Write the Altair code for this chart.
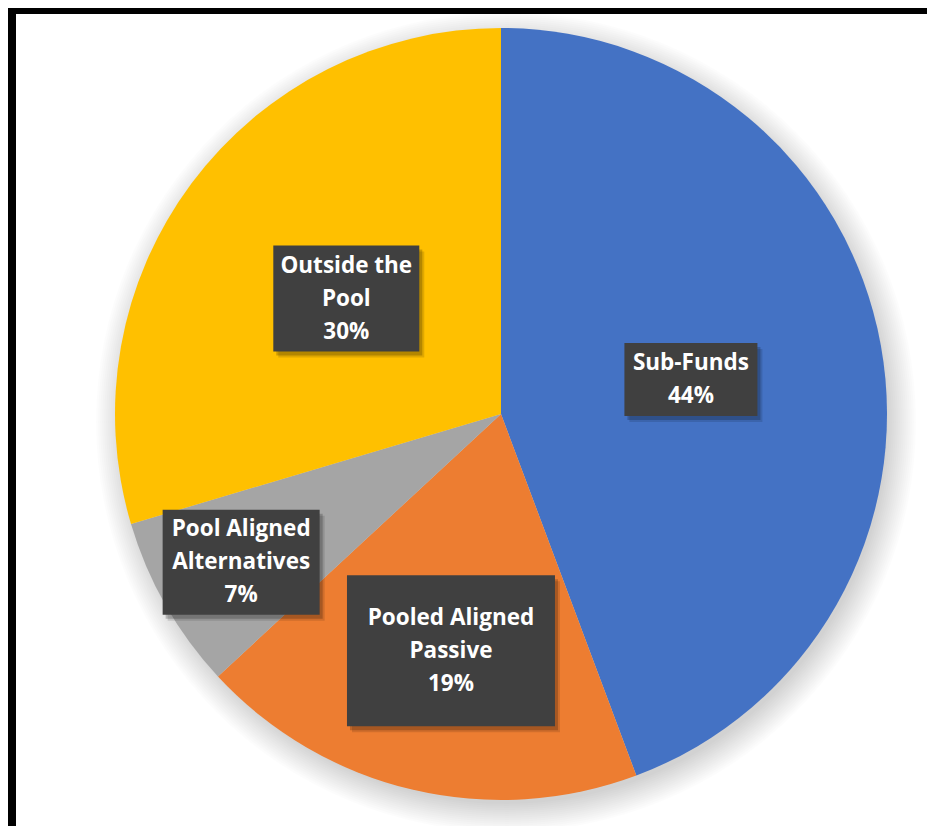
import altair as alt
import pandas as pd

# ---- data ----
categories = ["Sub-Funds", "Pooled Aligned Passive", "Pool Aligned Alternatives", "Outside the Pool"]
shares = [44.3, 18.8, 7.3, 29.6]
pct_labels = ["44%", "19%", "7%", "30%"]
name_lines = [["Sub-Funds"], ["Pooled Aligned", "Passive"], ["Pool Aligned", "Alternatives"], ["Outside the", "Pool"]]

# ---- styles / layout ----
colors = ["#4472C4", "#ED7D31", "#A5A5A5", "#FFC000"]
label_radius = [0.5, 0.63, 0.775, 0.5]
label_dx = [0, 6, 0, 0]
box_w = [133, 208, 157, 146]
box_h = [73, 151, 105, 106]
W, H = 919, 818
CX, CY, R = 493, 406, 386
FONT = "Open Sans"
LINE_H = 33

df = pd.DataFrame({
    "category": categories,
    "share": shares,
    "order": list(range(len(categories))),
    "lines": [n + [p] for n, p in zip(name_lines, pct_labels)],
    "nlines": [len(n) + 1 for n in name_lines],
    "lr": label_radius,
    "dx": label_dx,
    "bw": box_w,
    "bh": box_h,
})

color_scale = alt.Scale(domain=categories, range=colors)

# soft shadow rings behind the pie (drawn as big circles)
shadow_df = pd.DataFrame({"s": [(2 * (R + k)) ** 2 for k in range(-4, 26, 2)]})
shadow = alt.Chart(shadow_df).mark_circle(color="black", opacity=0.011).encode(
    size=alt.Size("s:Q", scale=None, legend=None),
    x=alt.value(CX + 5),
    y=alt.value(CY + 8),
)

pie = alt.Chart(df).mark_arc(outerRadius=R).encode(
    theta=alt.Theta("share:Q", stack=True),
    order=alt.Order("order:Q"),
    color=alt.Color("category:N", scale=color_scale, legend=None),
    x=alt.value(CX),
    y=alt.value(CY),
)

lab = alt.Chart(df).transform_window(
    cum="sum(share)", sort=[alt.SortField("order")], frame=[None, 0]
).transform_joinaggregate(
    total="sum(share)"
).transform_calculate(
    mid="(datum.cum - datum.share / 2) / datum.total * 2 * PI",
).transform_calculate(
    cx=f"{CX} + datum.dx + datum.lr * {R} * sin(datum.mid)",
    cy=f"{CY} - datum.lr * {R} * cos(datum.mid)",
).transform_calculate(
    ty=f"datum.cy - (datum.nlines - 1) / 2 * {LINE_H}",
    bx1="datum.cx - datum.bw / 2",
    bx2="datum.cx + datum.bw / 2",
    by1="datum.cy - datum.bh / 2",
    by2="datum.cy + datum.bh / 2",
    sx1="datum.cx - datum.bw / 2 + 3",
    sx2="datum.cx + datum.bw / 2 + 3",
    sy1="datum.cy - datum.bh / 2 + 4",
    sy2="datum.cy + datum.bh / 2 + 4",
    tx1="datum.cx - datum.bw / 2 + 5",
    tx2="datum.cx + datum.bw / 2 + 5",
    ty1="datum.cy - datum.bh / 2 + 6",
    ty2="datum.cy + datum.bh / 2 + 6",
)

box_shadow2 = lab.mark_rect(color="black", opacity=0.12).encode(
    x=alt.X("tx1:Q", scale=None, axis=None),
    x2="tx2:Q",
    y=alt.Y("ty1:Q", scale=None, axis=None),
    y2="ty2:Q",
)
box_shadow = lab.mark_rect(color="black", opacity=0.2).encode(
    x=alt.X("sx1:Q", scale=None, axis=None),
    x2="sx2:Q",
    y=alt.Y("sy1:Q", scale=None, axis=None),
    y2="sy2:Q",
)
boxes = lab.mark_rect(color="#404040").encode(
    x=alt.X("bx1:Q", scale=None, axis=None),
    x2="bx2:Q",
    y=alt.Y("by1:Q", scale=None, axis=None),
    y2="by2:Q",
)
texts = lab.mark_text(
    font=FONT, fontSize=22.5, fontWeight="bold", color="white",
    align="center", baseline="middle", lineHeight=LINE_H,
).encode(
    x=alt.X("cx:Q", scale=None, axis=None),
    y=alt.Y("ty:Q", scale=None, axis=None),
    text="lines",
)

frame_df = pd.DataFrame({"k": [0]})
left_border = alt.Chart(frame_df).mark_rule(color="black", strokeWidth=8).encode(
    x=alt.value(4), y=alt.value(0), y2=alt.value(H)
)
top_border = alt.Chart(frame_df).mark_rule(color="black", strokeWidth=8).encode(
    x=alt.value(0), x2=alt.value(W), y=alt.value(2)
)

chart = alt.layer(
    shadow, pie, box_shadow2, box_shadow, boxes, texts, left_border, top_border
).properties(
    width=W, height=H, padding=0, autosize=alt.AutoSizeParams(type="none"), background="white"
).configure_view(strokeWidth=0)

chart.save("out.html", embed_options={"renderer": "svg", "actions": False})
